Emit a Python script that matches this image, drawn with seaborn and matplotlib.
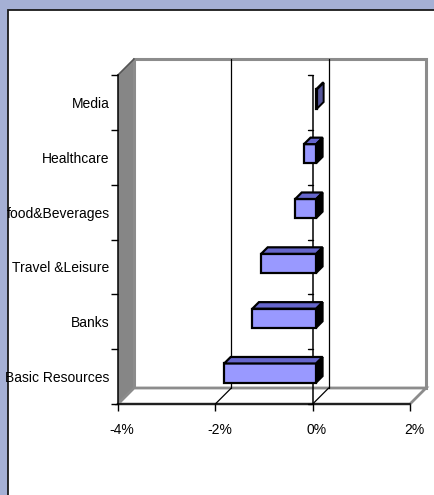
import matplotlib
matplotlib.use("Agg")
import matplotlib.pyplot as plt
import seaborn as sns
import pandas as pd
import numpy as np
from matplotlib.patches import Polygon, Rectangle
from matplotlib.lines import Line2D
from matplotlib.transforms import ScaledTranslation, IdentityTransform

# ---- data ----
categories = ["Media", "Healthcare", "food&Beverages", "Travel &Leisure", "Banks", "Basic Resources"]
values = [0.02, -0.25, -0.43, -1.13, -1.31, -1.89]
x_ticks = [-4, -2, 0, 2]
x_tick_labels = ["-4%", "-2%", "0%", "2%"]

df = pd.DataFrame({"sector": categories, "change": values})

sns.set_theme(style="white")
plt.rcParams['font.family'] = ['Liberation Sans', 'DejaVu Sans']

W, H = 435, 495
fig = plt.figure(figsize=(W / 100, H / 100), dpi=100)
fig.patch.set_facecolor("#A5B0D5")
fig.add_artist(Rectangle((8 / W, -0.05), 1.0, (H - 10) / H + 0.05, transform=fig.transFigure,
                         facecolor="white", edgecolor="#1a1a1a", lw=1.3, zorder=0))

ax = fig.add_axes([118 / W, (H - 404) / H, 292 / W, 329 / H])
ax.set_zorder(5)
ax.patch.set_visible(False)

sns.barplot(data=df, x="change", y="sector", orient="h", order=categories, width=0.35,
            color="#9999FF", saturation=1, edgecolor="black", linewidth=1.6, ax=ax, zorder=4)
ax.set_xlim(-4, 2)
ax.set_ylim(len(categories) - 0.5, -0.5)

for s in ["top", "right"]:
    ax.spines[s].set_visible(False)
for s in ["left", "bottom"]:
    ax.spines[s].set_color("black")
    ax.spines[s].set_linewidth(1.1)

bounds = np.arange(-0.5, len(categories), 1.0)
ax.set_yticks(range(len(categories)), labels=categories)
ax.set_yticks(bounds, minor=True)
ax.tick_params(axis="y", which="major", length=0, pad=6, labelsize=10, labelcolor="black")
ax.tick_params(axis="y", which="minor", length=5, width=1, color="black", direction="out", left=True)
ax.set_xticks(x_ticks, labels=x_tick_labels)
ax.tick_params(axis="x", length=5, width=1, color="black", direction="out", bottom=True, pad=9,
               labelsize=10, labelcolor="black")
ax.set_xlabel("")
ax.set_ylabel("")
ax.grid(False)
xshift = ScaledTranslation(4 / 100, 0, fig.dpi_scale_trans)
for lab in ax.get_xticklabels():
    lab.set_transform(lab.get_transform() + xshift)

fig.canvas.draw()
DEP = 16
def D(x, y, dx=0.0, dy=0.0):
    p = ax.transData.transform((x, y))
    return (p[0] + dx, p[1] + dy)

ident = IdentityTransform()
x0, x1 = ax.get_xlim()
yb, yt = ax.get_ylim()  # yb bottom (5.5), yt top (-0.5)

def add_fig(art):
    art.set_transform(ident)
    fig.add_artist(art)

# left wall
add_fig(Polygon([D(x0, yb), D(x0, yt), D(x0, yt, DEP, DEP), D(x0, yb, DEP, DEP)],
                closed=True, facecolor="#868686", edgecolor="none", zorder=1))
# back wall
add_fig(Polygon([D(x0, yb, DEP, DEP), D(x0, yt, DEP, DEP), D(x1, yt, DEP, DEP), D(x1, yb, DEP, DEP)],
                closed=True, facecolor="white", edgecolor="#8c8c8c", lw=2.2, zorder=1))
# floor
add_fig(Polygon([D(x0, yb), D(x1, yb), D(x1, yb, DEP, DEP), D(x0, yb, DEP, DEP)],
                closed=True, facecolor="white", edgecolor="#8c8c8c", lw=2.0, zorder=1.1))
# left wall top edge
a, b = D(x0, yt), D(x0, yt, DEP, DEP)
add_fig(Line2D([a[0], b[0]], [a[1], b[1]], color="#555555", lw=1.2, zorder=1.2))
# gridlines on back wall and floor
for xv in x_ticks[1:-1]:
    a, b = D(xv, yt, DEP, DEP), D(xv, yb, DEP, DEP)
    add_fig(Line2D([a[0], b[0]], [a[1], b[1]], color="black", lw=0.9, zorder=1.3))
    a, b = D(xv, yb), D(xv, yb, DEP, DEP)
    add_fig(Line2D([a[0], b[0]], [a[1], b[1]], color="black", lw=0.9, zorder=1.3))

# zero (category) axis line with ticks
ax.axvline(0, color="black", lw=1.1, zorder=2)
for yv in bounds:
    a = D(0, yv)
    add_fig(Line2D([a[0] - 5, a[0]], [a[1], a[1]], color="black", lw=1.0, zorder=6))

# 3D bars
SH, BD = 3.5, 6.5
shift = ScaledTranslation(SH / 100, SH / 100, fig.dpi_scale_trans)
for rect in list(ax.patches):
    rx, ry, rw, rh = rect.get_x(), rect.get_y(), rect.get_width(), rect.get_height()
    pts = np.array([D(rx, ry), D(rx + rw, ry + rh)])
    L, R = pts[:, 0].min() + SH, pts[:, 0].max() + SH
    B, T = pts[:, 1].min() + SH, pts[:, 1].max() + SH
    rect.set_transform(ax.transData + shift)
    rect.set_zorder(7)
    tiny = (R - L) < 2
    top = Polygon([(L, T), (R, T), (R + BD, T + BD), (L + BD, T + BD)], closed=True,
                  facecolor="#6666CC", edgecolor="black", lw=1.6, zorder=7)
    side = Polygon([(R, B), (R + BD, B + BD), (R + BD, T + BD), (R, T)], closed=True,
                   facecolor="#555599" if tiny else "black", edgecolor="black", lw=1.4, zorder=7)
    for art in (top, side):
        add_fig(art)
        art.set_zorder(7)

fig.savefig("out.png", dpi=100, facecolor=fig.get_facecolor())
